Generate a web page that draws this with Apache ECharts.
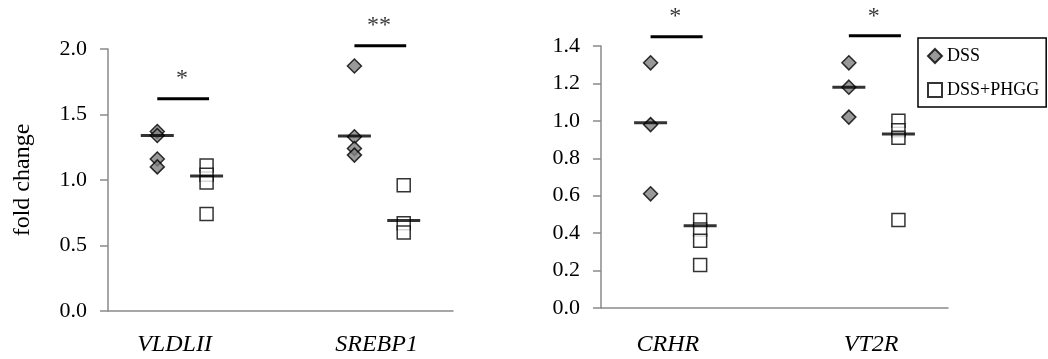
<!DOCTYPE html>
<html>
<head>
<meta charset="utf-8">
<script src="https://cdn.jsdelivr.net/npm/echarts@6/dist/echarts.min.js"></script>
<style>
html,body{margin:0;padding:0;background:#fff;}
#chart{width:1048px;height:359px;}
</style>
</head>
<body>
<div id="chart"></div>
<script>
// ---- data ----
var categoriesLeft = ['VLDLII', 'SREBP1'];
var categoriesRight = ['CRHR', 'VT2R'];
var dssLeft = [[1.37, 1.34, 1.16, 1.10], [1.87, 1.33, 1.24, 1.19]];
var phggLeft = [[1.11, 1.04, 0.98, 0.74], [0.96, 0.67, 0.60]];
var dssLineLeft = [1.34, 1.335];
var phggLineLeft = [1.03, 0.69];
var sigLeft = [1.62, 2.025];
var starLeft = [1.80, 2.21];
var starTextLeft = ['*', '**'];

var dssRight = [[1.31, 0.98, 0.61], [1.31, 1.18, 1.02]];
var phggRight = [[0.47, 0.42, 0.36, 0.23], [1.00, 0.95, 0.91, 0.47]];
var dssLineRight = [0.99, 1.18];
var phggLineRight = [0.44, 0.93];
var sigRight = [1.45, 1.455];
var starRight = [1.58, 1.58];
var starTextRight = ['*', '*'];

var yTicksLeft = {min: 0, max: 2.0, interval: 0.5};
var yTicksRight = {min: 0, max: 1.4, interval: 0.2};
var labelPos = [1.35, 5.45];

// ---- chart ----
var FONT = '"Liberation Serif", "Times New Roman", serif';
var AXIS_GRAY = '#8a8a8a';
var chart = echarts.init(document.getElementById('chart'), null, {renderer: 'canvas'});

function makeXAxis(gi, cats) {
  return {
    type: 'value', gridIndex: gi, min: 0, max: 7,
    axisLine: {show: true, lineStyle: {color: AXIS_GRAY, width: 1.5}},
    axisTick: {show: false},
    splitLine: {show: false},
    axisLabel: {
      customValues: labelPos,
      margin: gi === 0 ? 22 : 25,
      fontFamily: FONT, fontSize: 24, fontStyle: 'italic', color: '#000',
      formatter: function (v) {
        for (var i = 0; i < labelPos.length; i++) if (Math.abs(v - labelPos[i]) < 1e-6) return cats[i];
        return '';
      }
    }
  };
}
function makeYAxis(gi, t, name) {
  return {
    type: 'value', gridIndex: gi, min: t.min, max: t.max, interval: t.interval,
    name: name || '', nameLocation: 'middle', nameGap: 73,
    nameTextStyle: {fontFamily: FONT, fontSize: 24, color: '#000'},
    axisLine: {show: true, lineStyle: {color: AXIS_GRAY, width: 1.5}},
    axisTick: {show: true, length: 8, lineStyle: {color: AXIS_GRAY, width: 1.5}},
    splitLine: {show: false},
    axisLabel: {
      margin: 21, fontFamily: FONT, fontSize: 22, color: '#000',
      formatter: function (v) { return v.toFixed(1); }
    }
  };
}

var series = [];
function addPanel(gi, dss, phgg, dssLine, phggLine, sig, star, starText) {
  var dssData = [], phggData = [], medData = [], starData = [];
  for (var j = 0; j < dss.length; j++) {
    var base = 4 * j;
    dss[j].forEach(function (v) { dssData.push([base + 1, v]); });
    phgg[j].forEach(function (v) { phggData.push([base + 2, v]); });
    medData.push([base + 1, dssLine[j]]);
    medData.push([base + 2, phggLine[j]]);
    starData.push({value: [base + 1.5, star[j]], label: {formatter: starText[j]}});
    series.push({
      type: 'line', name: 'sig' + gi + j, xAxisIndex: gi, yAxisIndex: gi,
      data: [[base + 1, sig[j]], [base + 2.05, sig[j]]],
      symbol: 'none', clip: false, silent: true, z: 4,
      lineStyle: {color: '#000', width: 3}
    });
  }
  series.push({
    type: 'scatter', name: 'DSS', xAxisIndex: gi, yAxisIndex: gi,
    data: dssData, symbol: 'diamond', symbolSize: 14, z: 2,
    itemStyle: {color: '#808080', borderColor: '#000', borderWidth: 1.5}
  });
  series.push({
    type: 'scatter', name: 'DSS+PHGG', xAxisIndex: gi, yAxisIndex: gi,
    data: phggData, symbol: 'rect', symbolSize: 13, z: 2,
    itemStyle: {color: '#fff', borderColor: '#000', borderWidth: 1.5}
  });
  series.push({
    type: 'scatter', name: 'median' + gi, xAxisIndex: gi, yAxisIndex: gi,
    data: medData, symbol: 'rect', symbolSize: [33, 3], z: 3, silent: true,
    itemStyle: {color: '#000'}
  });
  series.push({
    type: 'scatter', name: 'star' + gi, xAxisIndex: gi, yAxisIndex: gi,
    data: starData, symbol: 'circle', symbolSize: 0, clip: false, z: 5, silent: true,
    label: {show: true, position: 'inside', fontFamily: FONT, fontSize: 24, color: '#000', offset: [0, 4]}
  });
}
addPanel(0, dssLeft, phggLeft, dssLineLeft, phggLineLeft, sigLeft, starLeft, starTextLeft);
addPanel(1, dssRight, phggRight, dssLineRight, phggLineRight, sigRight, starRight, starTextRight);

chart.setOption({
  animation: false,
  backgroundColor: '#fff',
  grid: [
    {left: 108, top: 49, width: 345, height: 262},
    {left: 601, top: 46, width: 347, height: 262}
  ],
  xAxis: [makeXAxis(0, categoriesLeft), makeXAxis(1, categoriesRight)],
  yAxis: [makeYAxis(0, yTicksLeft, 'fold change'), makeYAxis(1, yTicksRight)],
  legend: {
    data: [{name: 'DSS', icon: 'diamond'}, {name: 'DSS+PHGG', icon: 'rect'}],
    orient: 'vertical', left: 918, top: 38,
    padding: [9, 7, 8, 9], itemGap: 16, itemWidth: 14, itemHeight: 14,
    borderColor: '#000', borderWidth: 1.5, backgroundColor: '#fff',
    textStyle: {fontFamily: FONT, fontSize: 18, color: '#000'},
    selectedMode: false
  },
  series: series
});
</script>
</body>
</html>
